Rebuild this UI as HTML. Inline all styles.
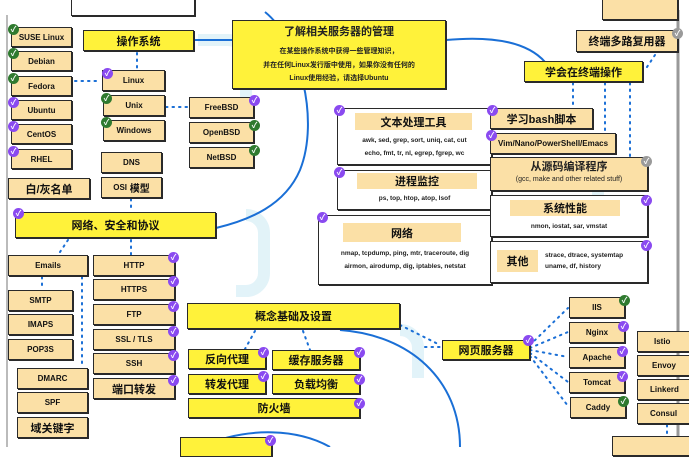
<!DOCTYPE html>
<html><head><meta charset="utf-8"><style>
body{margin:0;width:689px;height:447px;overflow:hidden;background:#fff;position:relative;font-family:"Liberation Sans","Noto Sans CJK SC",sans-serif;}
.b{position:absolute;box-sizing:border-box;border:1.5px solid #2a2a2a;box-shadow:1px 1px 0 #2a2a2a;background:#fbe0a6;display:flex;align-items:center;justify-content:center;font-weight:bold;font-size:8px;color:#111;text-align:center;}
.y{background:#fff23a;}
.w{background:#fff;}
.c{font-size:11px;}
.k{position:absolute;width:11px;height:11px;border-radius:50%;color:#fff;font-size:8px;line-height:11px;text-align:center;font-weight:bold;}
.p{background:#8a4af0;}.g{background:#2f7a2f;}.gr{background:#9a9a9a;}
.lab{position:absolute;background:#fbe0a6;display:flex;align-items:center;justify-content:center;font-weight:bold;font-size:11px;}
.t{position:absolute;font-size:7px;font-weight:bold;text-align:center;line-height:12.5px;color:#222;}
svg{position:absolute;left:0;top:0;}
</style></head><body>
<svg width="689" height="447">
<g fill="none" stroke="#d6eef6" stroke-width="12" opacity="0.7">
<path d="M198 40 h30 a18 18 0 0 1 18 18 v60"/>
<path d="M246 215 a18 18 0 0 1 18 18 v40 a18 18 0 0 1 -18 18 h-10"/>
<path d="M580 170 a18 18 0 0 1 18 18 v20"/>
<path d="M400 330 a18 18 0 0 1 18 18 v30"/>
</g>
<g fill="none" stroke="#1a6fd6" stroke-width="2">
<path d="M265 12 C300 40 320 120 300 170 C285 205 250 220 216 228"/>
<path d="M446 40 C500 35 530 45 545 62"/>
<path d="M194 40 L232 40"/>
<path d="M340 330 C410 335 460 380 460 447"/>
<path d="M200 447 C250 425 300 430 330 447"/>
</g>
<g fill="none" stroke="#1a6fd6" stroke-width="2" stroke-dasharray="1.5 5" stroke-linecap="round">
<path d="M137 53 V68"/><path d="M75 81 H100"/><path d="M166 107 H189"/>
<path d="M131 199 V211"/><path d="M68 240 L58 255"/><path d="M131 240 V255"/>
<path d="M42 277 V290"/><path d="M82 277 V368"/>
<path d="M255 331 L245 349"/><path d="M303 331 L310 350"/>
<path d="M400 325 L440 345"/><path d="M425 347 H442"/>
<path d="M530 345 L568 308"/><path d="M530 348 L568 332"/><path d="M530 350 L568 357"/><path d="M530 353 L568 382"/><path d="M530 356 L568 406"/>
<path d="M573 83 V108"/><path d="M605 83 V133"/><path d="M630 83 V157"/><path d="M655 55 L645 70"/>
<path d="M667 425 V436"/>
</g>
<path d="M7 15 V447" stroke="#bbb" stroke-width="2"/>
<path d="M678 10 V447" stroke="#999" stroke-width="3"/>
</svg>

<div class="b w" style="left:71px;top:-6px;width:124px;height:22px"></div>
<div class="b" style="left:602px;top:-6px;width:76px;height:26px"></div>

<div class="b" style="left:11px;top:27px;width:61px;height:20px">SUSE Linux</div>
<div class="b" style="left:11px;top:51px;width:61px;height:20px">Debian</div>
<div class="b" style="left:11px;top:76px;width:61px;height:20px">Fedora</div>
<div class="b" style="left:11px;top:100px;width:61px;height:20px">Ubuntu</div>
<div class="b" style="left:11px;top:124px;width:61px;height:20px">CentOS</div>
<div class="b" style="left:11px;top:149px;width:61px;height:20px">RHEL</div>
<div class="b c" style="left:8px;top:178px;width:82px;height:21px">白/灰名单</div>

<div class="b y c" style="left:83px;top:30px;width:111px;height:21px">操作系统</div>
<div class="b" style="left:102px;top:70px;width:63px;height:21px">Linux</div>
<div class="b" style="left:103px;top:95px;width:62px;height:21px">Unix</div>
<div class="b" style="left:103px;top:120px;width:62px;height:21px">Windows</div>
<div class="b" style="left:101px;top:152px;width:61px;height:21px">DNS</div>
<div class="b" style="left:101px;top:177px;width:61px;height:21px">OSI <span style="font-size:10px">&nbsp;模型</span></div>
<div class="b" style="left:189px;top:97px;width:65px;height:21px">FreeBSD</div>
<div class="b" style="left:189px;top:122px;width:65px;height:21px">OpenBSD</div>
<div class="b" style="left:189px;top:147px;width:65px;height:21px">NetBSD</div>

<div class="b y" style="left:232px;top:20px;width:214px;height:69px;display:block">
<div class="t" style="left:0;right:0;top:5px;font-size:11px">了解相关服务器的管理</div>
<div class="t" style="left:0;right:0;top:24px;line-height:13.5px;font-size:7px">在某些操作系统中获得一些管理知识，<br>并在任何Linux发行版中使用，如果你没有任何的<br>Linux使用经验，请选择Ubuntu</div>
</div>

<div class="b w" style="left:337px;top:108px;width:155px;height:57px;display:block">
<div class="lab" style="left:17px;top:4px;width:117px;height:17px">文本处理工具</div>
<div class="t" style="left:0;right:0;top:26px;font-size:6.5px">awk, sed, grep, sort, uniq, cat, cut<br>echo, fmt, tr, nl, egrep, fgrep, wc</div>
</div>
<div class="b w" style="left:337px;top:170px;width:155px;height:40px;display:block">
<div class="lab" style="left:19px;top:2px;width:120px;height:16px">进程监控</div>
<div class="t" style="left:0;right:0;top:22px;font-size:6.5px">ps, top, htop, atop, lsof</div>
</div>
<div class="b w" style="left:318px;top:215px;width:174px;height:70px;display:block">
<div class="lab" style="left:24px;top:7px;width:118px;height:19px">网络</div>
<div class="t" style="left:0;right:0;top:32px;font-size:6.5px">nmap, tcpdump, ping, mtr, traceroute, dig<br>airmon, airodump, dig, iptables, netstat</div>
</div>

<div class="b c" style="left:576px;top:30px;width:102px;height:22px">终端多路复用器</div>
<div class="b y c" style="left:524px;top:61px;width:119px;height:21px">学会在终端操作</div>
<div class="b c" style="left:490px;top:108px;width:103px;height:21px">学习bash脚本</div>
<div class="b" style="left:490px;top:133px;width:126px;height:21px">Vim/Nano/PowerShell/Emacs</div>
<div class="b" style="left:490px;top:157px;width:158px;height:34px;display:block">
<div class="t" style="left:0;right:0;top:3px;font-size:11px">从源码编译程序</div>
<div class="t" style="left:0;right:0;top:16px;font-size:7px;font-weight:normal">(gcc, make and other related stuff)</div>
</div>
<div class="b w" style="left:490px;top:195px;width:158px;height:42px;display:block">
<div class="lab" style="left:19px;top:4px;width:110px;height:16px">系统性能</div>
<div class="t" style="left:0;right:0;top:25px;font-size:6.5px">nmon, iostat, sar, vmstat</div>
</div>
<div class="b w" style="left:490px;top:241px;width:158px;height:42px;display:block">
<div class="lab" style="left:6px;top:8px;width:41px;height:22px">其他</div>
<div class="t" style="left:54px;top:8px;font-size:6.5px;text-align:left;line-height:11px">strace, dtrace, systemtap<br>uname, df, history</div>
</div>

<div class="b y c" style="left:15px;top:212px;width:201px;height:26px">网络、安全和协议</div>
<div class="b" style="left:8px;top:255px;width:80px;height:21px">Emails</div>
<div class="b" style="left:8px;top:290px;width:65px;height:21px">SMTP</div>
<div class="b" style="left:8px;top:314px;width:65px;height:21px">IMAPS</div>
<div class="b" style="left:8px;top:339px;width:65px;height:21px">POP3S</div>
<div class="b" style="left:17px;top:368px;width:71px;height:21px">DMARC</div>
<div class="b" style="left:17px;top:392px;width:71px;height:21px">SPF</div>
<div class="b c" style="left:17px;top:417px;width:71px;height:21px">域关键字</div>
<div class="b" style="left:93px;top:255px;width:82px;height:21px">HTTP</div>
<div class="b" style="left:93px;top:279px;width:82px;height:21px">HTTPS</div>
<div class="b" style="left:93px;top:304px;width:82px;height:21px">FTP</div>
<div class="b" style="left:93px;top:329px;width:82px;height:21px">SSL / TLS</div>
<div class="b" style="left:93px;top:353px;width:82px;height:21px">SSH</div>
<div class="b c" style="left:93px;top:378px;width:82px;height:21px">端口转发</div>

<div class="b y c" style="left:187px;top:303px;width:213px;height:26px">概念基础及设置</div>
<div class="b y c" style="left:188px;top:349px;width:78px;height:20px">反向代理</div>
<div class="b y c" style="left:272px;top:350px;width:88px;height:20px">缓存服务器</div>
<div class="b y c" style="left:188px;top:374px;width:78px;height:20px">转发代理</div>
<div class="b y c" style="left:272px;top:374px;width:88px;height:20px">负载均衡</div>
<div class="b y c" style="left:188px;top:398px;width:172px;height:20px">防火墙</div>
<div class="b y" style="left:180px;top:437px;width:92px;height:20px"></div>

<div class="b y c" style="left:442px;top:340px;width:88px;height:20px">网页服务器</div>
<div class="b" style="left:569px;top:297px;width:56px;height:21px">IIS</div>
<div class="b" style="left:569px;top:322px;width:56px;height:21px">Nginx</div>
<div class="b" style="left:569px;top:347px;width:56px;height:21px">Apache</div>
<div class="b" style="left:569px;top:372px;width:56px;height:21px">Tomcat</div>
<div class="b" style="left:570px;top:397px;width:56px;height:21px">Caddy</div>
<div class="b" style="left:637px;top:331px;width:60px;height:21px;justify-content:flex-start;padding-left:16px">Istio</div>
<div class="b" style="left:637px;top:355px;width:60px;height:21px;justify-content:flex-start;padding-left:14px">Envoy</div>
<div class="b" style="left:637px;top:379px;width:60px;height:21px;justify-content:flex-start;padding-left:12px">Linkerd</div>
<div class="b" style="left:637px;top:403px;width:60px;height:21px;justify-content:flex-start;padding-left:12px">Consul</div>
<div class="b" style="left:612px;top:436px;width:90px;height:20px"></div>

<div class="k g" style="left:8px;top:24px">✓</div>
<div class="k g" style="left:8px;top:48px">✓</div>
<div class="k g" style="left:8px;top:73px">✓</div>
<div class="k p" style="left:8px;top:97px">✓</div>
<div class="k p" style="left:8px;top:121px">✓</div>
<div class="k p" style="left:8px;top:146px">✓</div>
<div class="k p" style="left:102px;top:68px">✓</div>
<div class="k g" style="left:101px;top:93px">✓</div>
<div class="k g" style="left:101px;top:117px">✓</div>
<div class="k p" style="left:249px;top:95px">✓</div>
<div class="k g" style="left:249px;top:120px">✓</div>
<div class="k g" style="left:249px;top:145px">✓</div>
<div class="k p" style="left:334px;top:105px">✓</div>
<div class="k p" style="left:334px;top:167px">✓</div>
<div class="k p" style="left:317px;top:212px">✓</div>
<div class="k gr" style="left:672px;top:28px">✓</div>
<div class="k p" style="left:487px;top:105px">✓</div>
<div class="k p" style="left:486px;top:130px">✓</div>
<div class="k gr" style="left:641px;top:156px">✓</div>
<div class="k p" style="left:641px;top:195px">✓</div>
<div class="k p" style="left:641px;top:240px">✓</div>
<div class="k p" style="left:13px;top:208px">✓</div>
<div class="k p" style="left:168px;top:252px">✓</div>
<div class="k p" style="left:168px;top:276px">✓</div>
<div class="k p" style="left:168px;top:301px">✓</div>
<div class="k p" style="left:168px;top:326px">✓</div>
<div class="k p" style="left:168px;top:350px">✓</div>
<div class="k p" style="left:168px;top:375px">✓</div>
<div class="k p" style="left:258px;top:347px">✓</div>
<div class="k p" style="left:354px;top:347px">✓</div>
<div class="k p" style="left:258px;top:371px">✓</div>
<div class="k p" style="left:354px;top:374px">✓</div>
<div class="k p" style="left:354px;top:398px">✓</div>
<div class="k p" style="left:523px;top:335px">✓</div>
<div class="k g" style="left:619px;top:295px">✓</div>
<div class="k p" style="left:618px;top:321px">✓</div>
<div class="k p" style="left:617px;top:346px">✓</div>
<div class="k p" style="left:617px;top:371px">✓</div>
<div class="k g" style="left:618px;top:396px">✓</div>
<div class="k p" style="left:265px;top:435px">✓</div>
</body></html>
